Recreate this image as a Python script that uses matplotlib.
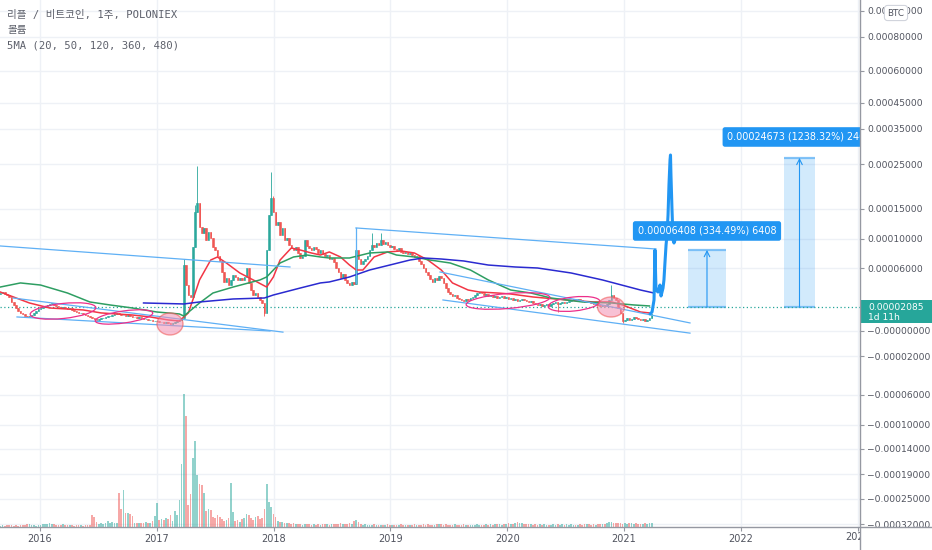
import numpy as np
import matplotlib
matplotlib.use('Agg')
import matplotlib.pyplot as plt
from matplotlib.patches import Ellipse, Rectangle
from matplotlib.lines import Line2D
from matplotlib.transforms import (Affine2D, ScaledTranslation, Bbox,
                                   TransformedBbox, blended_transform_factory)
from matplotlib.ticker import FuncFormatter

plt.rcParams['font.family'] = ['DejaVu Sans', 'Noto Sans CJK KR']

# 리플 / 비트코인 주봉 (가격 단위: satoshi)
first_week = 2015.66
first_open = 3400
closes = [
    3490, 3590, 3390, 3290, 3090, 2590, 2290, 2000, 1740, 1570,
    1480, 1300, 1220, 1300, 1390, 1570, 1740, 1910, 2000, 2085,
    2190, 2290, 2390, 2490, 2290, 2190, 2085, 2000, 2085, 2000,
    1910, 2000, 1830, 1740, 1650, 1570, 1570, 1480, 1390, 1300,
    1220, 1130, 1040, 960, 1040, 1130, 1130, 1220, 1300, 1300,
    1390, 1480, 1570, 1480, 1390, 1390, 1300, 1390, 1300, 1220,
    1220, 1130, 1220, 1130, 1040, 1040, 960, 960, 870, 870,
    870, 780, 780, 700, 780, 700, 610, 700, 780, 870,
    960, 1130, 6410, 4290, 3290, 3090, 8900, 14500, 16330, 12000,
    11000, 11840, 9860, 11170, 10170, 8900, 8480, 7660, 6970, 5600,
    4600, 5000, 4290, 4800, 5300, 5100, 4800, 5000, 4800, 5100,
    6000, 4500, 3790, 3290, 3490, 3090, 2790, 2490, 1570, 8480,
    14000, 17400, 14500, 12330, 12840, 10670, 11840, 9860, 10170, 9170,
    8760, 8480, 8900, 8070, 7380, 7660, 9860, 9030, 8760, 8480,
    8900, 8620, 8070, 8480, 7930, 7660, 7800, 7240, 7380, 6830,
    6000, 5600, 5000, 5400, 4800, 4500, 4290, 4600, 4400, 8480,
    7240, 6550, 6970, 7240, 7660, 8480, 9170, 8900, 9450, 9170,
    9860, 9310, 9590, 9170, 8900, 9030, 8620, 8480, 8760, 8200,
    8070, 8200, 7930, 8070, 7800, 7520, 7660, 6970, 6550, 6000,
    5600, 5300, 4900, 4600, 5000, 4800, 5200, 5000, 4500, 3990,
    3590, 3390, 3190, 3290, 2990, 2890, 2790, 2690, 2890, 2790,
    2990, 3090, 3290, 3490, 3590, 3490, 3290, 3390, 3190, 3290,
    3090, 3190, 2990, 3090, 3190, 2990, 3090, 2890, 2990, 2790,
    2890, 2690, 2790, 2890, 2790, 2690, 2590, 2690, 2490, 2390,
    2290, 2390, 2190, 2290, 2390, 2190, 2390, 2490, 2590, 2390,
    2490, 2590, 2490, 2590, 2690, 2790, 2890, 2790, 2890, 2790,
    2690, 2590, 2690, 2590, 2490, 2390, 2490, 2290, 2190, 2290,
    2190, 2390, 2790, 3290, 2990, 2790, 2000, 1570, 870, 960,
    1130, 960, 1040, 1220, 1130, 1040, 960, 1040, 870, 960,
    1130, 1480,
]
highs = {82: 7240, 87: 15800, 88: 24550, 121: 23200, 122: 18000,
         159: 11840, 166: 11000, 170: 11000, 273: 4290}
lows = {118: 1300, 249: 1650, 278: 700}
volumes = [
    15, 20, 15, 20, 25, 20, 15, 20, 15, 20,
    20, 25, 30, 35, 25, 20, 15, 20, 25, 30,
    35, 30, 40, 35, 30, 25, 20, 25, 30, 25,
    20, 25, 20, 15, 20, 25, 20, 15, 20, 25, 20,
    120, 105,
    50, 30, 40, 35, 45, 60, 40, 50, 45, 40,
    340, 180, 370, 140, 140, 130, 110,
    40, 45, 40, 45, 40, 50, 40, 45, 60, 110,
    240, 70, 80, 75, 90, 85, 120, 65, 160, 120,
    270, 630, 1330, 1110, 220, 330, 690, 860, 520, 430,
    420, 340, 160, 180, 170, 100, 90, 120, 100, 80,
    60, 70, 90, 440, 150, 60, 70, 50, 80, 90,
    130, 120, 90, 70, 100, 110, 80, 90, 180, 430,
    250, 200, 130, 100, 60, 50, 50, 40, 45, 40,
    35, 40, 30, 35, 30, 25, 30, 35, 30, 25,
    30, 25, 30, 25, 30, 35, 30, 25, 30, 35,
    30, 35, 40, 30, 35, 30, 40, 35, 60, 70,
    50, 30, 25, 30, 25, 20, 25, 30, 25, 20,
    25, 20, 25, 30, 25, 20, 25, 20, 25, 30,
    25, 20, 25, 20, 25, 30, 25, 20, 25, 30,
    25, 30, 25, 20, 25, 30, 35, 30, 25, 30,
    25, 20, 25, 30, 25, 20, 25, 30, 25, 20,
    25, 20, 25, 30, 25, 20, 25, 30, 25, 30,
    25, 30, 35, 30, 25, 30, 35, 40, 30, 35,
    45, 50, 40, 45, 35, 30, 35, 30, 25, 30,
    25, 30, 25, 30, 25, 20, 25, 30, 25, 30,
    25, 30, 25, 30, 25, 30, 25, 20, 25, 30,
    25, 30, 35, 30, 25, 30, 25, 30, 35, 30,
    35, 40, 55, 50, 45, 40, 45, 40, 35, 40,
    35, 40, 45, 35, 40, 35, 30, 35, 40, 35,
    40, 45,
]
last_price = 2085

# 이동평균선 (주차, satoshi)
ma20_w = [0, 13, 22, 37, 45, 59, 67, 75, 80, 84, 86, 89, 94, 97, 101, 107, 113, 119, 122, 125,
          130, 134, 139, 143, 147, 152, 156, 159, 162, 167, 173, 179, 185, 191, 197, 202, 209,
          214, 222, 228, 238, 253, 265, 273, 278, 286, 290]
ma20_v = [3590, 2490, 2000, 1830, 1570, 1390, 1220, 960, 870, 1570, 2790, 4800, 7100, 7520, 6690,
          5500, 4800, 4090, 5100, 7100, 8760, 8480, 8070, 7790, 8210, 7520, 6410, 5800, 5800,
          7520, 8210, 8350, 8070, 7100, 5800, 4500, 3790, 3590, 3490, 3390, 3090, 2790, 2590,
          2590, 2290, 1650, 1570]
ma50_w = [0, 9, 18, 30, 40, 49, 59, 70, 80, 82, 89, 95, 104, 116, 119, 125, 131, 137, 143, 147,
          156, 165, 173, 177, 185, 192, 201, 210, 218, 228, 237, 246, 260, 273, 283, 290]
ma50_v = [4090, 4500, 4290, 3490, 2590, 2290, 2000, 1650, 1480, 1300, 2490, 3490, 4090, 4800,
          5100, 6690, 7520, 7790, 7520, 7380, 7380, 8070, 8210, 7790, 7520, 7100, 6690, 5800,
          4800, 3790, 3490, 2990, 2590, 2490, 2290, 2190]
ma120_w = [64, 82, 89, 104, 118, 122, 134, 143, 147, 156, 165, 174, 183, 189, 197, 207, 218,
           230, 240, 255, 269, 286, 292]
ma120_v = [2490, 2390, 2590, 2890, 2990, 3290, 3990, 4500, 4600, 5100, 5800, 6410, 7100, 7380,
           7240, 6970, 6410, 6140, 6000, 5500, 4800, 3790, 3490]

# 추세선 (연도, satoshi)
trend_lines = [
    ((2015.658, 9040), (2018.140, 6140)),
    ((2015.769, 2990), (2018.080, -90)),
    ((2015.803, 1220), (2017.969, 0)),
    ((2018.705, 11840), (2021.274, 8620)),
    ((2018.705, 11840), (2018.705, 4500)),
    ((2019.425, 5600), (2021.565, 700)),
    ((2019.450, 2790), (2021.565, -170)),
]
# 브러시 (예상 경로)
brush_x = [2021.223, 2021.240, 2021.257, 2021.265, 2021.274, 2021.291, 2021.308, 2021.317,
           2021.334, 2021.342, 2021.351, 2021.360, 2021.368, 2021.377, 2021.385, 2021.394,
           2021.398, 2021.402, 2021.411, 2021.420, 2021.428, 2021.437]
brush_y = [1480, 1650, 2790, 8480, 3790, 3590, 4290, 3190, 3990, 4800, 6830, 9170, 10670,
           14000, 20330, 26140, 27570, 22560, 14830, 9860, 9450, 9860]
# 원 표시 (연도, satoshi, 폭px, 높이px, 각도, 채움)
marks = [
    (2016.197, 1740, 66, 15, 6, False),
    (2016.719, 1220, 58, 12, 8, False),
    (2017.113, 610, 26, 22, 0, True),
    (2020.007, 2690, 84, 15, 5, False),
    (2020.572, 2390, 52, 14, 6, False),
    (2020.889, 2085, 27, 20, 0, True),
]
# 가격 범위 측정
ranges = [
    (2021.548, 2021.873, 2085, 8493, 11340, '0.00006408 (334.49%) 6408'),
    (2022.370, 2022.635, 2085, 26758, 32720, '0.00024673 (1238.32%) 2467'),
]

years = [2016, 2017, 2018, 2019, 2020, 2021, 2022, 2023]
price_ticks = [-32000, -25000, -19000, -14000, -10000, -6000, -2000, 0, 6000, 10000, 15000,
               25000, 35000, 45000, 60000, 80000, 100000]

# TradingView 가격축 (비선형)
axis_sat = [-32900, -32000, -25000, -19000, -14000, -10000, -6000, -2000, 0, 2085, 6000, 10000,
            15000, 25000, 35000, 45000, 60000, 80000, 100000, 108000]
axis_px = np.array([527, 524, 499, 474, 449, 425, 395, 356, 331, 307, 268, 239, 209, 164, 129,
                    103, 71, 37, 11, 0], dtype=float)


def fwd(v):
    return np.interp(v, axis_sat, -axis_px)


def inv(u):
    return np.interp(u, -axis_px, axis_sat)


def price_fmt(v, pos):
    if v <= 0:
        return '\u2212' + f'{abs(v) * 1e-8:.8f}'
    return f'{v * 1e-8:.8f}'


UP = '#26a69a'
DOWN = '#ef5350'
TXT = '#50535e'
GRID = '#eef1f6'

fig = plt.figure(figsize=(9.32, 5.5), dpi=100)
ax = fig.add_axes([0, 23 / 550, 860 / 932, 527 / 550])
ax.set_yscale('function', functions=(fwd, inv))
ax.set_ylim(-32900, 108000)
ax.set_xlim(2015.6575, 2023.0205)

n = len(closes)
wk = 7 / 365.25
t = first_week + np.arange(n) * wk
opens = np.array([first_open] + closes[:-1], dtype=float)
cl = np.array(closes, dtype=float)
hi = np.maximum(opens, cl)
lo = np.minimum(opens, cl)
for k, v in highs.items():
    hi[k] = v
for k, v in lows.items():
    lo[k] = v
colors = [UP if c >= o else DOWN for o, c in zip(opens, cl)]

# 거래량 (보조축)
ax2 = ax.twinx()
ax2.set_ylim(0, 5270)
ax2.bar(t, volumes, width=0.75 * wk, color=colors, alpha=0.5, zorder=1)
ax2.set_yticks([])
for s in ax2.spines.values():
    s.set_visible(False)
ax2.set_xlim(ax.get_xlim())

# 캔들
ax.vlines(t, lo, hi, colors=colors, lw=0.7, alpha=0.85, zorder=3)
ax.bar(t, cl - opens, bottom=opens, width=0.7 * wk, color=colors,
       edgecolor=colors, lw=0.5, alpha=0.85, zorder=3)

# 이동평균
ax.plot(first_week + np.array(ma20_w) * wk, ma20_v, color='#f23645', lw=1.1, zorder=4)
ax.plot(first_week + np.array(ma50_w) * wk, ma50_v, color='#2e9e62', lw=1.1, zorder=4)
ax.plot(first_week + np.array(ma120_w) * wk, ma120_v, color='#2a2ad0', lw=1.1, zorder=4)

# 추세선
for (x0, y0), (x1, y1) in trend_lines:
    ax.plot([x0, x1], [y0, y1], color='#5fb0f5', lw=0.9, zorder=4)

# 원 표시
for cx, cy, w, h, ang, filled in marks:
    tr = Affine2D() + ScaledTranslation(cx, cy, ax.transData)
    if filled:
        e = Ellipse((0, 0), w, h, angle=ang, transform=tr, fc='#f48fb1', ec='#ef5350',
                    alpha=0.55, lw=1.0, zorder=5)
    else:
        e = Ellipse((0, 0), w, h, angle=ang, transform=tr, fc='none', ec='#ec2f8a',
                    lw=0.9, zorder=5)
    ax.add_patch(e)

# 가격 범위
for x0, x1, base, top, ylab, label in ranges:
    ax.add_patch(Rectangle((x0, base), x1 - x0, top - base, fc='#2196f3', alpha=0.2,
                           ec='none', zorder=2))
    ax.hlines([base, top], x0, x1, color='#64b5f6', lw=1.6, alpha=0.8, zorder=2)
    xc = (x0 + x1) / 2
    ax.annotate('', xy=(xc, top), xytext=(xc, base),
                arrowprops=dict(arrowstyle='->', color='#2196f3', lw=0.8,
                                shrinkA=0, shrinkB=0))
    ax.text(xc, ylab, label, ha='center', va='center', color='white', fontsize=6.9,
            zorder=8, clip_on=True,
            bbox=dict(boxstyle='round,pad=0.5,rounding_size=0.25', fc='#2196f3', ec='none'))

# 브러시
ax.plot(brush_x, brush_y, color='#2196f3', lw=2.2, solid_joinstyle='round',
        solid_capstyle='round', zorder=6)

# 현재가 점선
ax.axhline(last_price, color=UP, ls=(0, (1, 2)), lw=0.9, zorder=2)

# 축 설정 (twinx 이후에 오른쪽으로)
ax.yaxis.tick_right()
ax.set_yticks(price_ticks)
ax.yaxis.set_major_formatter(FuncFormatter(price_fmt))
ax.yaxis.set_minor_locator(matplotlib.ticker.NullLocator())
ax.set_xticks(years)
ax.set_xticklabels([str(y) for y in years[:-1]] + [''])
ax.tick_params(axis='y', right=True, left=False, labelright=True, labelleft=False,
               length=3, width=0.8, color='#9598a1', labelsize=6.6, labelcolor=TXT, pad=2)
ax.tick_params(axis='x', length=3, width=0.8, color='#9598a1', labelsize=7,
               labelcolor=TXT, pad=2)
ax.grid(True, color=GRID, lw=1)
ax.set_axisbelow(True)
for s in ax.spines.values():
    s.set_visible(False)

# 잘린 2023 라벨
lab = ax.text(2023, -10 / 527, '2023', transform=blended_transform_factory(ax.transData, ax.transAxes),
              ha='center', va='center', fontsize=7, color=TXT)
lab.set_clip_box(TransformedBbox(Bbox([[0, 0], [860 / 932, 1]]), fig.transFigure))
lab.set_clip_on(True)

# 축선
fig.add_artist(Line2D([860 / 932, 860 / 932], [0, 1], transform=fig.transFigure,
                      color='#9598a1', lw=1))
fig.add_artist(Line2D([0, 1], [23 / 550, 23 / 550], transform=fig.transFigure,
                      color='#9598a1', lw=1))

# 현재가 라벨
yd = ax.transData.transform((2020, last_price))[1]
yf = fig.transFigure.inverted().transform((0, yd))[1]
fig.add_artist(Rectangle((860 / 932, yf - 16 / 550), 72 / 932, 23 / 550,
                         transform=fig.transFigure, fc=UP, ec='none'))
fig.text(868 / 932, yf, '0.00002085', color='white', fontsize=6.6, va='center', ha='left')
fig.text(868 / 932, yf - 11 / 550, '1d 11h', color='white', fontsize=6.6, va='center',
         ha='left')

# BTC 표시
fig.text(896 / 932, 1 - 13 / 550, 'BTC', ha='center', va='center', fontsize=6.3, color=TXT,
         bbox=dict(boxstyle='round,pad=0.35', fc='white', ec='#d1d4dc', lw=0.8))

# 좌상단 제목
mono = ['DejaVu Sans Mono', 'Noto Sans CJK KR']
fig.text(7 / 932, 1 - 15 / 550, '리플 / 비트코인, 1주, POLONIEX', family=mono, fontsize=7.6,
         color='#5d606b', va='center')
fig.text(7 / 932, 1 - 30 / 550, '볼륨', family=mono, fontsize=7.6, color='#5d606b',
         va='center')
fig.text(7 / 932, 1 - 46 / 550, '5MA (20, 50, 120, 360, 480)', family=mono, fontsize=7.6,
         color='#5d606b', va='center')

fig.savefig('out.png', dpi=100, facecolor='white')
